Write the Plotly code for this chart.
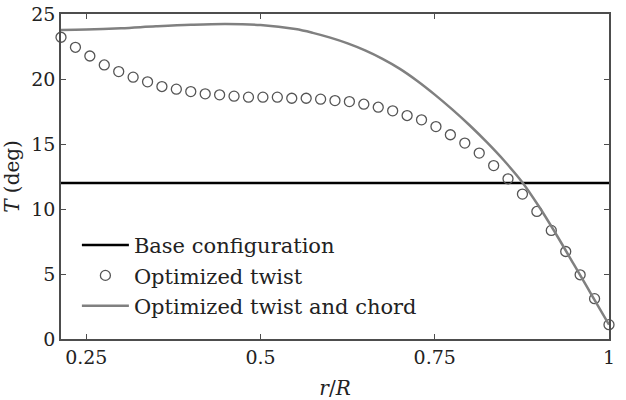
import plotly.graph_objects as go

# Data
r_twist = [0.2137, 0.2344, 0.2551, 0.2758, 0.2965, 0.3172, 0.3379, 0.3585, 0.3792, 0.3999,
           0.4206, 0.4413, 0.4620, 0.4827, 0.5034, 0.5241, 0.5448, 0.5655, 0.5862, 0.6068,
           0.6275, 0.6482, 0.6689, 0.6896, 0.7103, 0.7310, 0.7517, 0.7724, 0.7931, 0.8138,
           0.8345, 0.8551, 0.8758, 0.8965, 0.9172, 0.9379, 0.9586, 0.9793, 1.0000]
twist_opt = [23.21, 22.44, 21.77, 21.08, 20.57, 20.14, 19.78, 19.42, 19.22, 19.03,
             18.86, 18.78, 18.68, 18.60, 18.60, 18.60, 18.52, 18.52, 18.45, 18.34,
             18.26, 18.06, 17.83, 17.55, 17.19, 16.86, 16.34, 15.71, 15.07, 14.30,
             13.34, 12.32, 11.15, 9.81, 8.35, 6.73, 4.94, 3.10, 1.10]

r_chord = [0.2137, 0.25, 0.30, 0.35, 0.40, 0.45, 0.50, 0.55, 0.575, 0.60, 0.625, 0.65, 0.675,
           0.70, 0.725, 0.75, 0.775, 0.80, 0.825, 0.85, 0.875, 0.90, 0.925, 0.95, 0.975, 1.0]
twist_chord = [23.77, 23.80, 23.90, 24.05, 24.17, 24.23, 24.15, 23.84, 23.55, 23.18, 22.74,
               22.20, 21.55, 20.78, 19.85, 18.80, 17.66, 16.44, 15.12, 13.69, 12.10, 10.15,
               7.98, 5.70, 3.40, 1.10]

r_base = [0.2137, 1.0]
twist_base = [12.0, 12.0]

x_ticks = [0.25, 0.5, 0.75, 1.0]
x_ticklabels = ["0.25", "0.5", "0.75", "1"]
y_ticks = [0, 5, 10, 15, 20, 25]

FONT = "DejaVu Serif, Liberation Serif, serif"
TXT = "#222222"

fig = go.Figure()
fig.add_trace(go.Scatter(x=r_base, y=twist_base, mode="lines", name="Base configuration",
                         line=dict(color="black", width=2.5)))
fig.add_trace(go.Scatter(x=r_twist, y=twist_opt, mode="markers", name="Optimized twist",
                         marker=dict(symbol="circle-open", size=10, color="#555555",
                                     line=dict(width=1.3, color="#555555")),
                         cliponaxis=False))
fig.add_trace(go.Scatter(x=r_chord, y=twist_chord, mode="lines", name="Optimized twist and chord",
                         line=dict(color="#808080", width=2.5, shape="spline", smoothing=1.0)))

axis_common = dict(showline=True, linecolor="#4d4d4d", linewidth=1.5, mirror="ticks",
                   ticks="inside", ticklen=5, tickwidth=1.2, tickcolor="#4d4d4d",
                   showgrid=False, zeroline=False, automargin=False,
                   tickfont=dict(family=FONT, size=19, color=TXT))

fig.update_xaxes(range=[0.2137, 1.0], tickvals=x_ticks, ticktext=x_ticklabels,
                 title=dict(text="<i>r</i>/<i>R</i>", font=dict(family=FONT, size=20, color=TXT),
                            standoff=18),
                 **axis_common)
fig.update_yaxes(range=[0, 25], tickvals=y_ticks,
                 title=dict(text="<i>T</i> (deg)", font=dict(family=FONT, size=20, color=TXT),
                            standoff=14),
                 **axis_common)

fig.update_layout(
    width=626, height=400,
    margin=dict(l=61, r=17, t=14, b=61),
    plot_bgcolor="white", paper_bgcolor="white",
    font=dict(family=FONT, size=21, color=TXT),
    showlegend=True,
    legend=dict(x=0.029, y=0.351, xanchor="left", yanchor="top",
                bgcolor="rgba(0,0,0,0)", borderwidth=0, itemwidth=47,
                font=dict(family=FONT, size=21, color=TXT), tracegroupgap=0),
)

fig.write_html("out.html")
